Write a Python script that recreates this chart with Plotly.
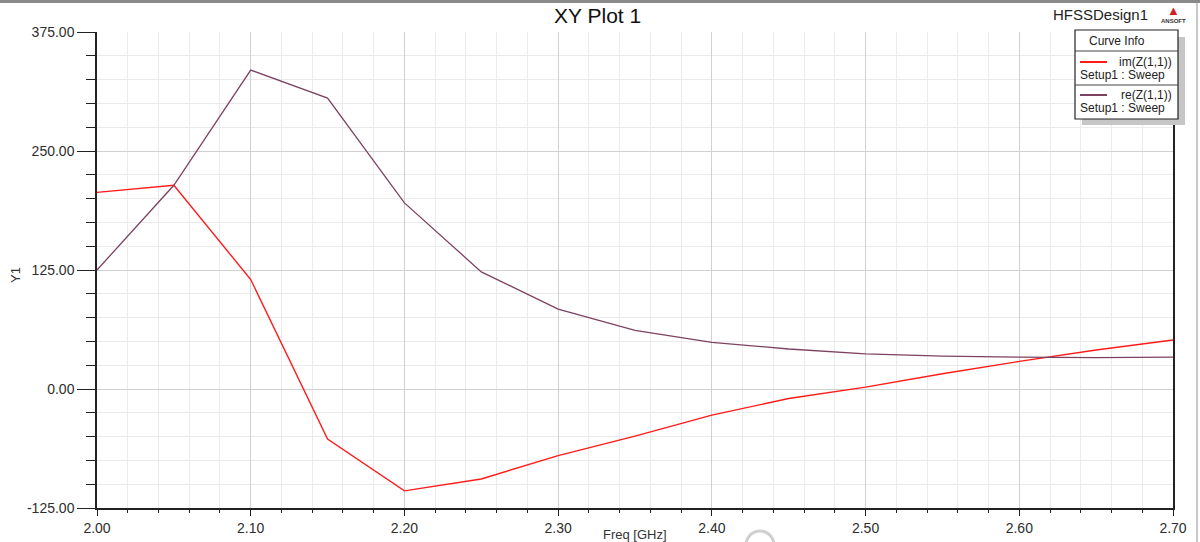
import plotly.graph_objects as go

# ---- data ----
freq_ghz = [2.00, 2.05, 2.10, 2.15, 2.20, 2.25, 2.30, 2.35, 2.40, 2.45, 2.50, 2.55, 2.60, 2.65, 2.70]
im_z11 = [206.5, 214.0, 115.0, -52.5, -107.0, -94.5, -70.0, -49.5, -27.5, -10.0, 2.0, 16.0, 29.0, 41.0, 51.5]
re_z11 = [125.0, 214.0, 335.0, 305.5, 195.5, 123.0, 84.0, 61.5, 49.0, 42.0, 37.0, 34.5, 33.5, 33.0, 33.5]

x_ticks = [2.00, 2.10, 2.20, 2.30, 2.40, 2.50, 2.60, 2.70]
y_ticks = [-125.0, 0.0, 125.0, 250.0, 375.0]

series_names = ["im(Z(1,1))", "re(Z(1,1))"]
series_sub = "Setup1 : Sweep"
series_colors = ["#ff1a1a", "#7d4262"]

W, H = 1200, 542
L, R, T, B = 97, 1173, 32, 508  # plot area in pixels

def px(x):
    return (x - L) / (R - L)

def py(y):
    return (B - y) / (B - T)

FONT = "Liberation Sans, Arial, sans-serif"

fig = go.Figure()
fig.add_trace(go.Scatter(x=freq_ghz, y=im_z11, mode="lines", name=series_names[0],
                         line=dict(color=series_colors[0], width=1.4), showlegend=False))
fig.add_trace(go.Scatter(x=freq_ghz, y=re_z11, mode="lines", name=series_names[1],
                         line=dict(color=series_colors[1], width=1.3), showlegend=False))

fig.update_layout(
    width=W, height=H,
    margin=dict(l=L, r=W - R, t=T, b=H - B, autoexpand=False),
    paper_bgcolor="white", plot_bgcolor="white",
    font=dict(family=FONT, color="#333333", size=14),
    showlegend=False,
)

fig.update_xaxes(
    range=[2.0, 2.7], tickvals=x_ticks, ticktext=[f"{v:.2f}" for v in x_ticks],
    automargin=False,
    showgrid=True, gridcolor="#d0d0d0", gridwidth=1,
    ticks="outside", ticklen=6, tickcolor="#222", tickwidth=1.3,
    showline=True, linecolor="#222", linewidth=1.5, mirror=False,
    zeroline=False,
    minor=dict(dtick=0.02, tick0=2.0, ticks="outside", ticklen=3, tickcolor="#222",
               showgrid=True, gridcolor="#ebebeb", gridwidth=1),
    tickfont=dict(size=14, color="#2e2e2e"),
)
fig.update_yaxes(
    range=[-125, 375], tickvals=y_ticks, ticktext=[f"{v:.2f}" for v in y_ticks],
    automargin=False,
    showgrid=True, gridcolor="#d0d0d0", gridwidth=1,
    ticks="outside", ticklen=18, tickcolor="#222", tickwidth=1.3,
    showline=True, linecolor="#222", linewidth=1.5, mirror=True,
    zeroline=False,
    minor=dict(dtick=25, tick0=0, ticks="outside", ticklen=9, tickcolor="#222",
               showgrid=True, gridcolor="#ebebeb", gridwidth=1),
    tickfont=dict(size=14, color="#2e2e2e"),
)

shapes = []
annotations = []

# outer frame (top gray band, right edge)
shapes.append(dict(type="line", xref="paper", yref="paper", x0=px(0), x1=px(W), y0=py(1.5), y1=py(1.5),
                   line=dict(color="#8a8a8a", width=3)))
shapes.append(dict(type="line", xref="paper", yref="paper", x0=px(1197), x1=px(1197), y0=py(3), y1=py(H),
                   line=dict(color="#c8c8c8", width=2)))

# titles
annotations.append(dict(text="XY Plot 1", xref="paper", yref="paper", x=px(597), y=py(16),
                        showarrow=False, font=dict(size=21, color="#111"), xanchor="center", yanchor="middle"))
annotations.append(dict(text="HFSSDesign1", xref="paper", yref="paper", x=px(1100), y=py(15),
                        showarrow=False, font=dict(size=15, color="#222"), xanchor="center", yanchor="middle"))
annotations.append(dict(text="▲", xref="paper", yref="paper", x=px(1173), y=py(11),
                        showarrow=False, font=dict(size=13, color="#d02020"), xanchor="center", yanchor="middle"))
annotations.append(dict(text="<b>ANSOFT</b>", xref="paper", yref="paper", x=px(1173), y=py(21),
                        showarrow=False, font=dict(size=6, color="#333"), xanchor="center", yanchor="middle"))
annotations.append(dict(text="Y1", xref="paper", yref="paper", x=px(15), y=py(275), textangle=-90,
                        showarrow=False, font=dict(size=13, color="#333"), xanchor="center", yanchor="middle"))
annotations.append(dict(text="Freq [GHz]", xref="paper", yref="paper", x=px(635), y=py(534),
                        showarrow=False, font=dict(size=13, color="#333"), xanchor="center", yanchor="middle"))

# faint watermark circle at the bottom
shapes.append(dict(type="circle", xref="paper", yref="paper", x0=px(746), x1=px(774), y0=py(531), y1=py(559),
                   line=dict(color="#d0d0d0", width=3)))

# legend box "Curve Info"
bx0, bx1, by0, by1 = 1075, 1178, 30, 119
shapes.append(dict(type="rect", xref="paper", yref="paper", x0=px(bx0 + 7), x1=px(bx1 + 7), y0=py(by0 + 7), y1=py(by1 + 6),
                   fillcolor="#c6c6c6", line=dict(width=0)))
shapes.append(dict(type="rect", xref="paper", yref="paper", x0=px(bx0), x1=px(bx1), y0=py(by0), y1=py(by1),
                   fillcolor="white", line=dict(color="#222", width=1.2)))
shapes.append(dict(type="line", xref="paper", yref="paper", x0=px(bx0), x1=px(bx1), y0=py(51), y1=py(51),
                   line=dict(color="#444", width=1)))
shapes.append(dict(type="line", xref="paper", yref="paper", x0=px(bx0), x1=px(bx1), y0=py(85), y1=py(85),
                   line=dict(color="#444", width=1)))
annotations.append(dict(text="Curve Info", xref="paper", yref="paper", x=px(1117), y=py(41),
                        showarrow=False, font=dict(size=12, color="#222"), xanchor="center", yanchor="middle"))
for i, (nm, col) in enumerate(zip(series_names, series_colors)):
    yl = 62 + i * 33
    shapes.append(dict(type="line", xref="paper", yref="paper", x0=px(1080), x1=px(1107), y0=py(yl), y1=py(yl),
                       line=dict(color=col, width=2)))
    annotations.append(dict(text=nm, xref="paper", yref="paper", x=px(1174), y=py(yl),
                            showarrow=False, font=dict(size=12, color="#222"), xanchor="right", yanchor="middle"))
    annotations.append(dict(text=series_sub, xref="paper", yref="paper", x=px(1078), y=py(yl + 13),
                            showarrow=False, font=dict(size=12, color="#222"), xanchor="left", yanchor="middle"))

fig.update_layout(shapes=shapes, annotations=annotations)

fig.write_html("out.html", config={"displayModeBar": False},
               post_script="document.body.style.margin='0';document.body.style.overflow='hidden';")
